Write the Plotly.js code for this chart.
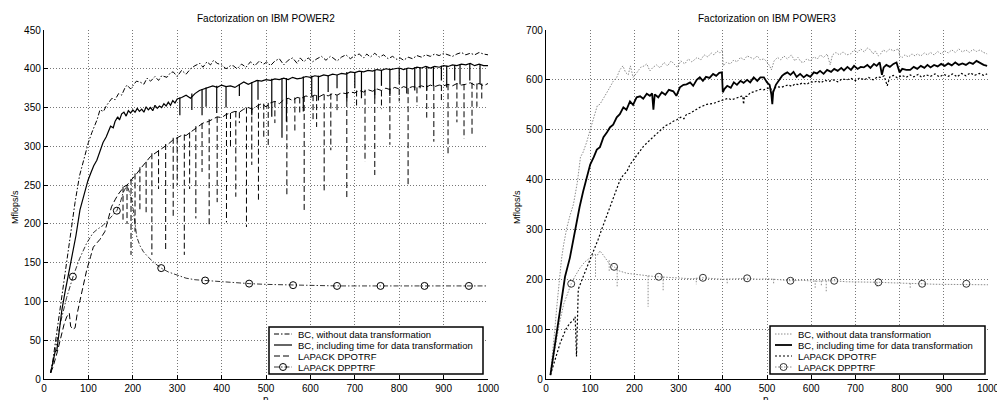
<!DOCTYPE html>
<html><head><meta charset="utf-8">
<script src="https://cdn.plot.ly/plotly-3.0.1.min.js"></script>
<style>html,body{margin:0;padding:0;background:#fff}#chart{width:997px;height:400px}</style>
</head><body><div id="chart"></div>
<script>
// ===== DATA (n, Mflops/s) =====
// POWER2
const p2_bc_without = [[15,8],[20,24],[30,65],[40,105],[50,145],[60,190],[70,228],[80,262],[90,285],[100,305],[108,318],[115,328],[120,335],[126,347],[134,345],[140,352],[147,358],[153,362],[160,360],[168,368],[175,366],[182,375],[187,379],[195,374],[200,378],[208,384],[216,383],[225,380],[232,388],[240,384],[250,390],[258,385],[265,391],[277,389],[285,395],[291,396],[300,390],[310,398],[320,393],[330,400],[340,404],[351,407],[358,402],[367,409],[375,405],[382,411],[390,407],[400,405],[410,400],[420,404],[426,404],[435,400],[445,406],[455,402],[465,409],[475,404],[485,410],[495,406],[502,409],[510,404],[520,410],[530,413],[540,405],[550,411],[560,414],[570,407],[577,414],[585,409],[595,414],[605,409],[615,413],[625,416],[635,411],[645,416],[651,414],[660,410],[670,415],[680,418],[690,413],[700,417],[710,419],[720,414],[727,419],[735,415],[745,420],[755,415],[765,418],[775,413],[785,416],[795,412],[802,414],[810,411],[820,415],[830,413],[840,417],[850,415],[860,418],[870,416],[880,419],[890,417],[900,420],[910,418],[920,416],[930,419],[940,421],[950,418],[960,420],[970,418],[980,421],[990,419],[1000,418]];
const p2_bc_incl = [[15,8],[20,22],[25,35],[29,37],[35,65],[40,88],[47,111],[55,135],[60,150],[66,166],[72,185],[81,218],[90,238],[99,256],[105,265],[112,275],[119,282],[126,293],[133,305],[140,312],[146,320],[150,326],[156,324],[160,332],[166,338],[170,334],[175,342],[180,344],[185,339],[190,346],[195,343],[200,347],[205,344],[210,349],[215,345],[220,348],[225,344],[230,351],[235,347],[240,350],[245,346],[250,353],[255,349],[260,352],[265,350],[270,355],[275,352],[280,357],[285,353],[290,359],[295,356],[300,361],[310,363],[320,366],[330,362],[340,368],[350,372],[360,374],[370,376],[380,378],[390,376],[400,379],[410,377],[420,378],[430,376],[440,380],[450,383],[460,380],[470,383],[480,385],[490,384],[500,386],[510,385],[520,387],[530,386],[540,388],[550,386],[560,389],[570,387],[580,388],[590,390],[600,389],[610,391],[620,390],[630,392],[640,391],[650,393],[660,392],[670,394],[680,393],[690,396],[700,395],[710,397],[720,396],[730,398],[740,397],[750,399],[760,398],[770,400],[780,399],[790,400],[800,401],[810,399],[820,401],[830,400],[840,402],[850,401],[860,403],[870,401],[880,403],[890,402],[900,404],[910,403],[920,405],[930,404],[940,406],[950,405],[960,407],[970,404],[980,406],[990,404],[1000,404]];
const p2_bc_incl_dips = [[306,340],[333,347],[356,340],[365,351],[389,343],[410,350],[440,365],[468,340],[482,360],[513,338],[536,311],[546,332],[584,345],[603,365],[618,359],[640,370],[660,375],[682,358],[700,375],[715,362],[745,362],[760,378],[779,365],[800,380],[817,368],[835,372],[847,375],[862,372],[877,378],[895,385],[907,376],[925,385],[937,380],[959,385],[982,380]];
const p2_dpotrf = [[15,8],[20,15],[30,35],[36,50],[45,70],[51,80],[57,85],[60,68],[65,64],[70,66],[75,85],[81,101],[90,125],[96,140],[105,158],[111,170],[120,176],[126,180],[137,190],[145,209],[152,222],[160,231],[167,238],[175,244],[180,248],[187,250],[195,255],[200,258],[209,265],[220,273],[231,280],[240,287],[250,291],[260,295],[270,298],[280,303],[290,308],[300,311],[313,315],[320,314],[330,318],[340,322],[350,326],[358,330],[370,332],[380,335],[390,338],[400,337],[410,341],[420,343],[430,345],[440,344],[450,348],[460,350],[470,348],[480,352],[490,355],[500,351],[510,356],[520,358],[530,355],[540,360],[550,362],[560,359],[570,363],[580,362],[590,365],[600,363],[610,366],[620,364],[630,367],[640,365],[650,368],[660,366],[670,369],[680,368],[690,370],[700,369],[710,372],[720,370],[730,373],[740,371],[750,374],[760,372],[770,375],[780,373],[790,376],[800,374],[810,377],[820,375],[830,377],[840,376],[850,378],[860,376],[870,379],[880,377],[890,379],[900,378],[910,380],[920,378],[930,381],[940,379],[950,380],[960,382],[970,379],[980,381],[990,378],[1000,381]];
const p2_dpotrf_dips = [[178,203],[187,200],[196,160],[205,190],[216,215],[230,215],[243,160],[258,245],[274,166],[291,207],[300,250],[316,160],[328,245],[342,207],[356,267],[372,196],[390,228],[411,202],[420,300],[432,235],[440,330],[456,196],[468,276],[483,228],[495,310],[505,300],[520,330],[547,235],[565,318],[576,340],[586,218],[606,334],[614,325],[631,240],[646,295],[660,345],[682,231],[704,351],[723,280],[745,263],[760,348],[779,302],[800,358],[820,250],[840,352],[862,337],[878,306],[895,358],[910,289],[930,331],[946,310],[964,315],[975,351],[986,358]];
const p2_dpptrf = [[15,8],[25,35],[36,70],[51,105],[66,133],[80,155],[96,175],[110,188],[120,193],[133,198],[145,205],[155,211],[164,217],[172,228],[178,240],[187,250],[192,242],[198,231],[204,205],[209,183],[216,172],[224,164],[235,157],[250,149],[264,143],[280,138],[300,134],[320,130],[340,128],[363,127],[400,125],[430,124],[462,123],[500,122],[561,121],[600,121],[660,120],[758,120],[857,120],[957,120],[1000,120]];
const p2_dpptrf_marks_n = [65,164,264,363,462,561,660,758,857,957];
const p2_dpptrf_marks_v = [132,217,143,127,123,121,120,120,120,120];

// POWER3
const p3_bc_without = [[10,8],[15,50],[20,100],[25,150],[30,200],[35,240],[40,270],[47,303],[55,330],[62,350],[71,395],[78,445],[84,455],[92,475],[100,500],[108,525],[116,548],[122,551],[130,562],[140,578],[152,597],[160,605],[167,620],[174,628],[180,615],[186,610],[191,628],[197,605],[206,615],[214,625],[222,628],[228,632],[235,618],[242,625],[250,630],[258,624],[267,635],[275,628],[283,638],[290,632],[297,625],[305,638],[314,632],[322,642],[330,636],[342,645],[350,640],[358,650],[366,646],[374,654],[380,650],[387,658],[393,654],[399,660],[401,628],[408,635],[417,632],[425,640],[432,636],[440,645],[448,640],[455,648],[463,645],[470,642],[478,648],[485,640],[493,642],[500,636],[506,628],[510,620],[516,638],[524,645],[531,640],[538,648],[546,642],[555,650],[563,638],[570,645],[577,636],[583,635],[590,642],[598,638],[606,646],[614,642],[621,650],[628,645],[636,652],[643,630],[648,650],[656,655],[664,650],[672,656],[680,650],[689,652],[697,660],[705,655],[712,662],[720,656],[727,664],[734,660],[740,652],[745,658],[752,648],[757,652],[763,660],[770,656],[778,662],[786,658],[794,661],[798,662],[800,648],[806,645],[812,650],[820,646],[828,652],[835,648],[840,652],[848,648],[856,654],[863,650],[870,655],[878,650],[886,657],[894,652],[902,658],[910,654],[918,660],[926,655],[934,662],[942,656],[950,660],[958,655],[966,661],[974,657],[982,660],[990,655],[998,652]];
const p3_bc_incl = [[10,8],[20,70],[32,143],[43,205],[54,243],[62,280],[69,316],[76,345],[84,376],[92,405],[100,430],[108,445],[115,460],[122,465],[130,485],[138,495],[145,505],[152,510],[160,525],[167,531],[175,545],[182,540],[190,557],[197,550],[205,565],[213,567],[220,562],[228,572],[235,568],[240,573],[243,540],[246,571],[254,565],[262,575],[270,570],[278,580],[288,577],[295,568],[303,585],[311,590],[318,591],[326,595],[333,588],[341,600],[348,605],[355,598],[362,606],[370,604],[378,612],[385,608],[392,614],[398,615],[400,575],[404,582],[410,588],[418,584],[425,595],[432,590],[440,598],[447,594],[455,600],[462,595],[470,605],[478,598],[485,605],[493,605],[500,595],[506,590],[510,570],[512,551],[514,575],[520,590],[527,600],[534,608],[540,612],[546,615],[553,610],[560,616],[567,606],[575,612],[583,605],[590,610],[598,606],[606,615],[613,613],[620,618],[628,612],[636,620],[645,616],[652,622],[660,618],[668,624],[674,619],[682,626],[690,620],[697,628],[705,622],[712,626],[719,625],[727,630],[734,624],[742,632],[748,628],[755,635],[760,610],[764,625],[770,630],[778,626],[786,632],[793,635],[800,615],[806,622],[815,620],[824,620],[832,626],[840,622],[848,628],[856,624],[863,630],[870,625],[878,630],[886,627],[894,632],[902,628],[910,633],[918,629],[926,635],[934,630],[942,633],[950,630],[958,635],[966,632],[974,638],[982,634],[990,630],[998,628]];
const p3_dpotrf = [[10,8],[20,35],[32,72],[45,100],[54,112],[62,118],[66,125],[69,45],[71,150],[73,180],[84,205],[100,240],[111,262],[118,280],[126,300],[138,330],[149,355],[160,385],[167,398],[174,408],[183,416],[190,430],[198,440],[205,449],[213,457],[220,466],[230,475],[240,483],[251,491],[260,500],[270,508],[280,512],[288,517],[296,520],[305,525],[312,522],[318,531],[326,533],[334,538],[341,541],[348,545],[356,548],[364,551],[372,552],[380,553],[388,556],[396,558],[404,560],[412,563],[420,560],[428,563],[436,566],[445,568],[447,551],[449,567],[455,567],[462,574],[470,576],[478,578],[485,581],[493,580],[500,583],[508,584],[512,572],[516,583],[524,586],[532,585],[540,588],[548,590],[556,587],[564,592],[572,590],[580,594],[590,591],[598,596],[606,595],[614,598],[622,594],[630,599],[640,597],[650,600],[660,596],[670,602],[681,600],[690,603],[700,598],[710,604],[720,600],[730,605],[740,600],[750,606],[757,605],[765,608],[772,588],[778,606],[786,609],[795,604],[805,609],[815,605],[824,610],[832,606],[842,611],[850,605],[860,610],[870,607],[880,612],[890,606],[900,611],[910,607],[920,612],[930,606],[940,613],[950,608],[960,614],[970,609],[980,613],[990,609],[998,612]];
const p3_dpptrf = [[10,8],[20,60],[30,110],[40,150],[50,175],[57,191],[65,205],[77,223],[88,235],[100,243],[110,250],[116,248],[122,257],[130,248],[138,238],[145,229],[154,225],[165,217],[183,212],[200,210],[213,209],[225,207],[240,206],[255,205],[280,204],[300,202],[330,201],[355,203],[380,201],[400,200],[430,201],[455,202],[480,200],[500,201],[530,199],[553,197],[580,198],[610,196],[630,197],[652,197],[680,195],[700,195],[730,194],[752,194],[780,193],[800,192],[830,191],[851,191],[880,190],[900,190],[951,190],[1000,189]];
const p3_dpptrf_dips = [[112,205],[143,215],[161,185],[231,145],[265,178],[340,190],[410,192],[515,190],[609,183],[623,185],[634,176],[700,188],[749,185],[824,183],[857,186]];
const p3_dpptrf_marks_n = [57,154,255,355,455,553,652,752,851,951];
const p3_dpptrf_marks_v = [191,225,205,203,202,197,197,194,191,191];

const titles = ['Factorization on IBM POWER2','Factorization on IBM POWER3'];
const legendLabels = ['BC, without data transformation','BC, including time for data transformation','LAPACK DPOTRF','LAPACK DPPTRF'];
const yTitle = 'Mflops/s', xTitle = 'n';

// ===== BUILD =====
const FONT = 'Liberation Sans, Arial, Helvetica, sans-serif';
const W = 997, H = 400;
const PX = p => p / W, PY = p => (H - p) / H;

function xy(pairs){ return {x: pairs.map(p=>p[0]), y: pairs.map(p=>p[1])}; }
function withDips(base, dips){
  const o = xy(base);
  dips.forEach(d => {
    let lo = base[0], hi = base[base.length-1];
    base.forEach(b => { if (b[0] <= d[0] && b[0] >= lo[0]) lo = b; if (b[0] >= d[0] && b[0] <= hi[0]) hi = b; });
    const top = Math.max(lo[1], hi[1]);
    o.x.push(null, d[0], d[0]); o.y.push(null, top, d[1]);
  });
  return o;
}
const GRAY = '#8c8c8c';
const S = {
  p2dd: {color:'#000', width:1, dash:'5px,2px,1.5px,2px'},
  p2s:  {color:'#000', width:1.2},
  p2d:  {color:'#000', width:1, dash:'6px,3px'},
  p2dp: {color:'#000', width:0.8, dash:'5px,2px,1.5px,2px'},
  p3g:  {color:GRAY, width:1, dash:'1.5px,1.5px'},
  p3s:  {color:'#000', width:1.8},
  p3d:  {color:'#000', width:1.2, dash:'2px,2px'},
  p3dp: {color:GRAY, width:1, dash:'1.5px,1.5px'}
};
function line(d, style, xa, ya){ return Object.assign({type:'scatter', mode:'lines', line:style, xaxis:xa, yaxis:ya, showlegend:false, hoverinfo:'skip', connectgaps:false}, d); }
function marks(n, v, col, sz, xa, ya){ return {type:'scatter', mode:'markers', x:n, y:v, xaxis:xa, yaxis:ya, showlegend:false, hoverinfo:'skip', marker:{symbol:'circle-open', size:sz, color:col, line:{width:1, color:col}}}; }

const traces = [
  line(xy(p2_dpptrf), S.p2dp, 'x', 'y'),
  marks(p2_dpptrf_marks_n, p2_dpptrf_marks_v, '#000', 7, 'x', 'y'),
  line(withDips(p2_dpotrf, p2_dpotrf_dips), S.p2d, 'x', 'y'),
  line(withDips(p2_bc_incl, p2_bc_incl_dips), S.p2s, 'x', 'y'),
  line(xy(p2_bc_without), S.p2dd, 'x', 'y'),
  line(withDips(p3_dpptrf, p3_dpptrf_dips), S.p3dp, 'x2', 'y2'),
  marks(p3_dpptrf_marks_n, p3_dpptrf_marks_v, '#333', 7, 'x2', 'y2'),
  line(xy(p3_dpotrf), S.p3d, 'x2', 'y2'),
  line(xy(p3_bc_without), S.p3g, 'x2', 'y2'),
  line(xy(p3_bc_incl), S.p3s, 'x2', 'y2')
];

const ax = {showline:true, linecolor:'#000', linewidth:1.2, ticks:'inside', ticklen:4, tickwidth:1, tickcolor:'#000',
  showgrid:true, gridcolor:'#777', griddash:'1px,2px', gridwidth:1, zeroline:false, mirror:false, fixedrange:true,
  ticklabeloverflow:'allow',
  tickfont:{family:FONT, size:10, color:'#000'}};
const yDom = [PY(379), PY(30)];

const shapes = [], annotations = [];
function legend(box, lx0, lx1, tx, ys, styles, circ){
  shapes.push({type:'rect', xref:'paper', yref:'paper', x0:PX(box[0]), x1:PX(box[1]), y0:PY(box[3]), y1:PY(box[2]), line:{color:'#000', width:1.5}, fillcolor:'#fff', layer:'above'});
  styles.forEach((st, i) => {
    shapes.push({type:'line', xref:'paper', yref:'paper', x0:PX(lx0), x1:PX(lx1), y0:PY(ys[i]), y1:PY(ys[i]), line:st, layer:'above'});
    annotations.push({xref:'paper', yref:'paper', x:PX(tx), y:PY(ys[i]), xanchor:'left', yanchor:'middle', showarrow:false, text:legendLabels[i], font:{family:FONT, size:9.5, color:'#000'}});
  });
  const cx = (lx0 + lx1) / 2, cy = ys[3];
  shapes.push({type:'circle', xref:'paper', yref:'paper', x0:PX(cx-3.5), x1:PX(cx+3.5), y0:PY(cy+3.5), y1:PY(cy-3.5), line:{color:circ, width:1}, fillcolor:'rgba(0,0,0,0)', layer:'above'});
}
legend([269,483,327,374], 274, 292, 296, [334,345,356,367], [S.p2dd, S.p2s, S.p2d, S.p2dp], '#000');
legend([770,985,326,374], 775, 792, 796, [334,345,356,367], [S.p3g, S.p3s, S.p3d, S.p3dp], '#333');

[[266, titles[0]], [767, titles[1]]].forEach(t => annotations.push({xref:'paper', yref:'paper', x:PX(t[0]), y:PY(19), xanchor:'center', yanchor:'middle', showarrow:false, text:t[1], font:{family:FONT, size:10, color:'#000'}}));
[15, 517].forEach(x => annotations.push({xref:'paper', yref:'paper', x:PX(x), y:PY(207), xanchor:'center', yanchor:'middle', textangle:-90, showarrow:false, text:yTitle, font:{family:FONT, size:9, color:'#000'}}));
[266, 766].forEach(x => annotations.push({xref:'paper', yref:'paper', x:PX(x), y:PY(399.5), xanchor:'center', yanchor:'middle', showarrow:false, text:xTitle, font:{family:FONT, size:10, color:'#000'}}));

const layout = {
  width:W, height:H, margin:{l:0, r:0, t:0, b:0}, paper_bgcolor:'#fff', plot_bgcolor:'#fff', showlegend:false,
  xaxis: Object.assign({}, ax, {domain:[PX(44), PX(488)], range:[0,1000], dtick:100, anchor:'y'}),
  yaxis: Object.assign({}, ax, {domain:yDom, range:[0,450], dtick:50, anchor:'x'}),
  xaxis2: Object.assign({}, ax, {domain:[PX(546), PX(988)], range:[0,1000], dtick:100, anchor:'y2'}),
  yaxis2: Object.assign({}, ax, {domain:yDom, range:[0,700], dtick:100, anchor:'x2'}),
  shapes, annotations
};
Plotly.newPlot('chart', traces, layout, {staticPlot:true, displayModeBar:false});
</script></body></html>
